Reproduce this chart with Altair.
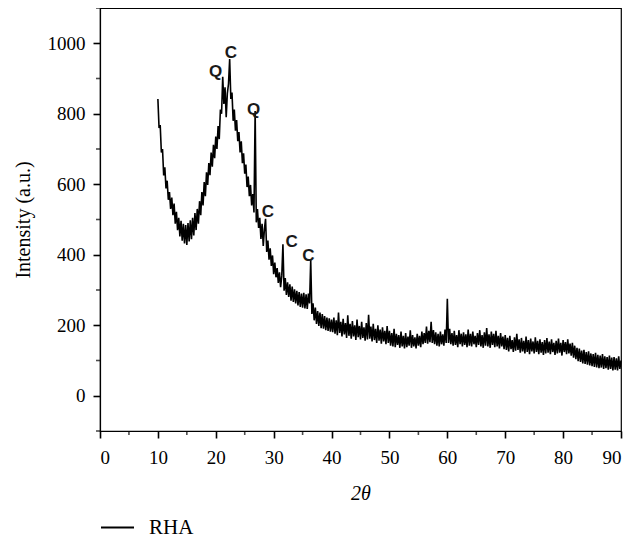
import altair as alt
import numpy as np
import pandas as pd

# Intensity, one value every 0.2 degrees (2theta), per 10-degree block
counts_10_20 = [842, 760, 768, 690, 700, 625, 648, 588, 610, 556,
                578, 530, 562, 512, 545, 488, 522, 470, 505, 452,
                496, 440, 488, 432, 484, 428, 490, 438, 498, 444,
                505, 455, 518, 470, 530, 488, 552, 512, 578, 540,
                606, 566, 634, 598, 660, 626, 690, 650, 712, 674]
counts_20_30 = [735, 700, 765, 728, 812, 800, 905, 828, 875, 790,
                858, 885, 955, 842, 860, 780, 812, 752, 782, 722,
                748, 690, 722, 660, 688, 630, 656, 592, 622, 566,
                598, 540, 572, 520, 808, 492, 530, 476, 505, 445,
                488, 425, 472, 502, 408, 440, 386, 418, 368, 398]
counts_30_40 = [345, 378, 336, 362, 320, 350, 308, 340, 430, 298,
                334, 286, 322, 280, 316, 270, 310, 266, 302, 262,
                298, 256, 294, 252, 290, 250, 292, 248, 288, 246,
                290, 262, 385, 232, 262, 214, 250, 204, 240, 198,
                236, 192, 232, 190, 226, 186, 222, 184, 220, 182]
counts_40_50 = [216, 180, 222, 176, 214, 172, 236, 178, 210, 168,
                218, 174, 206, 164, 228, 170, 204, 162, 212, 168,
                200, 158, 216, 166, 198, 160, 210, 164, 194, 156,
                206, 160, 230, 162, 196, 154, 204, 158, 190, 150,
                200, 156, 188, 148, 194, 154, 184, 146, 198, 150]
counts_50_60 = [184, 142, 178, 140, 190, 138, 176, 144, 172, 136,
                182, 140, 170, 134, 178, 138, 168, 142, 186, 136,
                172, 140, 166, 134, 176, 142, 170, 138, 182, 146,
                178, 150, 196, 148, 184, 152, 210, 150, 186, 146,
                180, 142, 176, 140, 182, 146, 174, 142, 188, 150]
counts_60_70 = [275, 150, 190, 146, 178, 142, 184, 144, 172, 138,
                186, 146, 176, 140, 180, 144, 174, 138, 188, 142,
                176, 140, 182, 146, 170, 138, 178, 144, 186, 140,
                172, 136, 180, 142, 192, 140, 174, 136, 182, 144,
                176, 138, 184, 140, 170, 134, 178, 140, 168, 132]
counts_70_80 = [172, 130, 164, 126, 170, 132, 158, 124, 166, 128,
                176, 130, 160, 122, 164, 126, 156, 120, 168, 124,
                158, 118, 162, 126, 154, 120, 166, 124, 156, 118,
                160, 122, 152, 116, 158, 120, 164, 122, 154, 118,
                160, 124, 150, 116, 156, 120, 162, 122, 150, 114]
counts_80_90 = [158, 124, 152, 118, 160, 120, 148, 114, 150, 108,
                142, 104, 136, 98, 134, 96, 128, 92, 130, 90,
                124, 88, 126, 86, 120, 84, 118, 82, 122, 80,
                116, 78, 114, 80, 118, 76, 112, 78, 110, 74,
                114, 76, 108, 72, 110, 74, 106, 72, 112, 76,
                100]

# Peak annotations
peak_labels = ["Q", "C", "Q", "C", "C", "C"]
peak_x = [19.95, 22.6, 26.55, 29.0, 33.1, 36.0]
peak_y = [918, 973, 810, 522, 435, 397]

# Axis ticks (major labelled, minor unlabelled)
x_major = list(range(0, 91, 10))
x_minor = list(range(5, 90, 10))
y_major = list(range(0, 1001, 200))
y_minor = list(range(-100, 1101, 200))

intensity = (counts_10_20 + counts_20_30 + counts_30_40 + counts_40_50 +
             counts_50_60 + counts_60_70 + counts_70_80 + counts_80_90)
two_theta = np.round(10 + 0.2 * np.arange(len(intensity)), 1)

df = pd.DataFrame({"two_theta": two_theta, "intensity": intensity, "sample": "RHA"})
labels_df = pd.DataFrame({"x": peak_x, "y": peak_y, "label": peak_labels})
xminor_df = pd.DataFrame({"v": x_minor})
yminor_df = pd.DataFrame({"v": y_minor})

serif = "Liberation Serif"

x_scale = alt.Scale(domain=[0, 90], nice=False, zero=False)
y_scale = alt.Scale(domain=[-100, 1100], nice=False, zero=False)

line = alt.Chart(df).mark_line(strokeWidth=1.6, color="black").encode(
    x=alt.X("two_theta:Q", scale=x_scale,
            axis=alt.Axis(title="2θ", values=x_major, tickSize=7,
                          labelPadding=10, titlePadding=16, titleFontStyle="italic")),
    y=alt.Y("intensity:Q", scale=y_scale,
            axis=alt.Axis(title="Intensity (a.u.)", values=y_major, format="d",
                          tickSize=7, labelPadding=8, titlePadding=14)),
    color=alt.Color("sample:N", scale=alt.Scale(range=["black"]),
                    legend=alt.Legend(title=None, orient="none", legendX=0, legendY=502,
                                      symbolType="stroke", symbolSize=1089,
                                      symbolStrokeWidth=2, labelOffset=14,
                                      labelFont=serif, labelFontSize=21,
                                      labelColor="black", padding=0)),
)

text = alt.Chart(labels_df).mark_text(
    font="Liberation Sans", fontSize=17, fontWeight="bold", color="#1a1a1a"
).encode(
    x=alt.X("x:Q", scale=x_scale),
    y=alt.Y("y:Q", scale=y_scale),
    text="label:N",
)

x_minor_ticks = alt.Chart(xminor_df).mark_tick(
    orient="vertical", size=4, thickness=1.6, color="black", yOffset=2
).encode(
    x=alt.X("v:Q", scale=x_scale),
    y=alt.YDatum(-100, scale=y_scale),
)

y_minor_ticks = alt.Chart(yminor_df).mark_tick(
    orient="horizontal", size=4, thickness=1.6, color="black", xOffset=-2
).encode(
    y=alt.Y("v:Q", scale=y_scale),
    x=alt.XDatum(0, scale=x_scale),
)

chart = alt.layer(line, text, x_minor_ticks, y_minor_ticks).properties(
    width=521, height=423,
    background="white",
    autosize=alt.AutoSizeParams(type="none"),
    padding={"left": 92, "top": 0, "right": 4, "bottom": 110},
).configure_view(
    stroke="black", strokeWidth=1.2
).configure_axis(
    grid=False, domainColor="black", domainWidth=1.2, tickColor="black", tickWidth=1.6,
    labelFont=serif, labelFontSize=19, labelColor="black",
    titleFont=serif, titleFontSize=20, titleColor="black", titleFontWeight="normal",
)

chart.save("out.html", embed_options={"renderer": "svg", "actions": False})
